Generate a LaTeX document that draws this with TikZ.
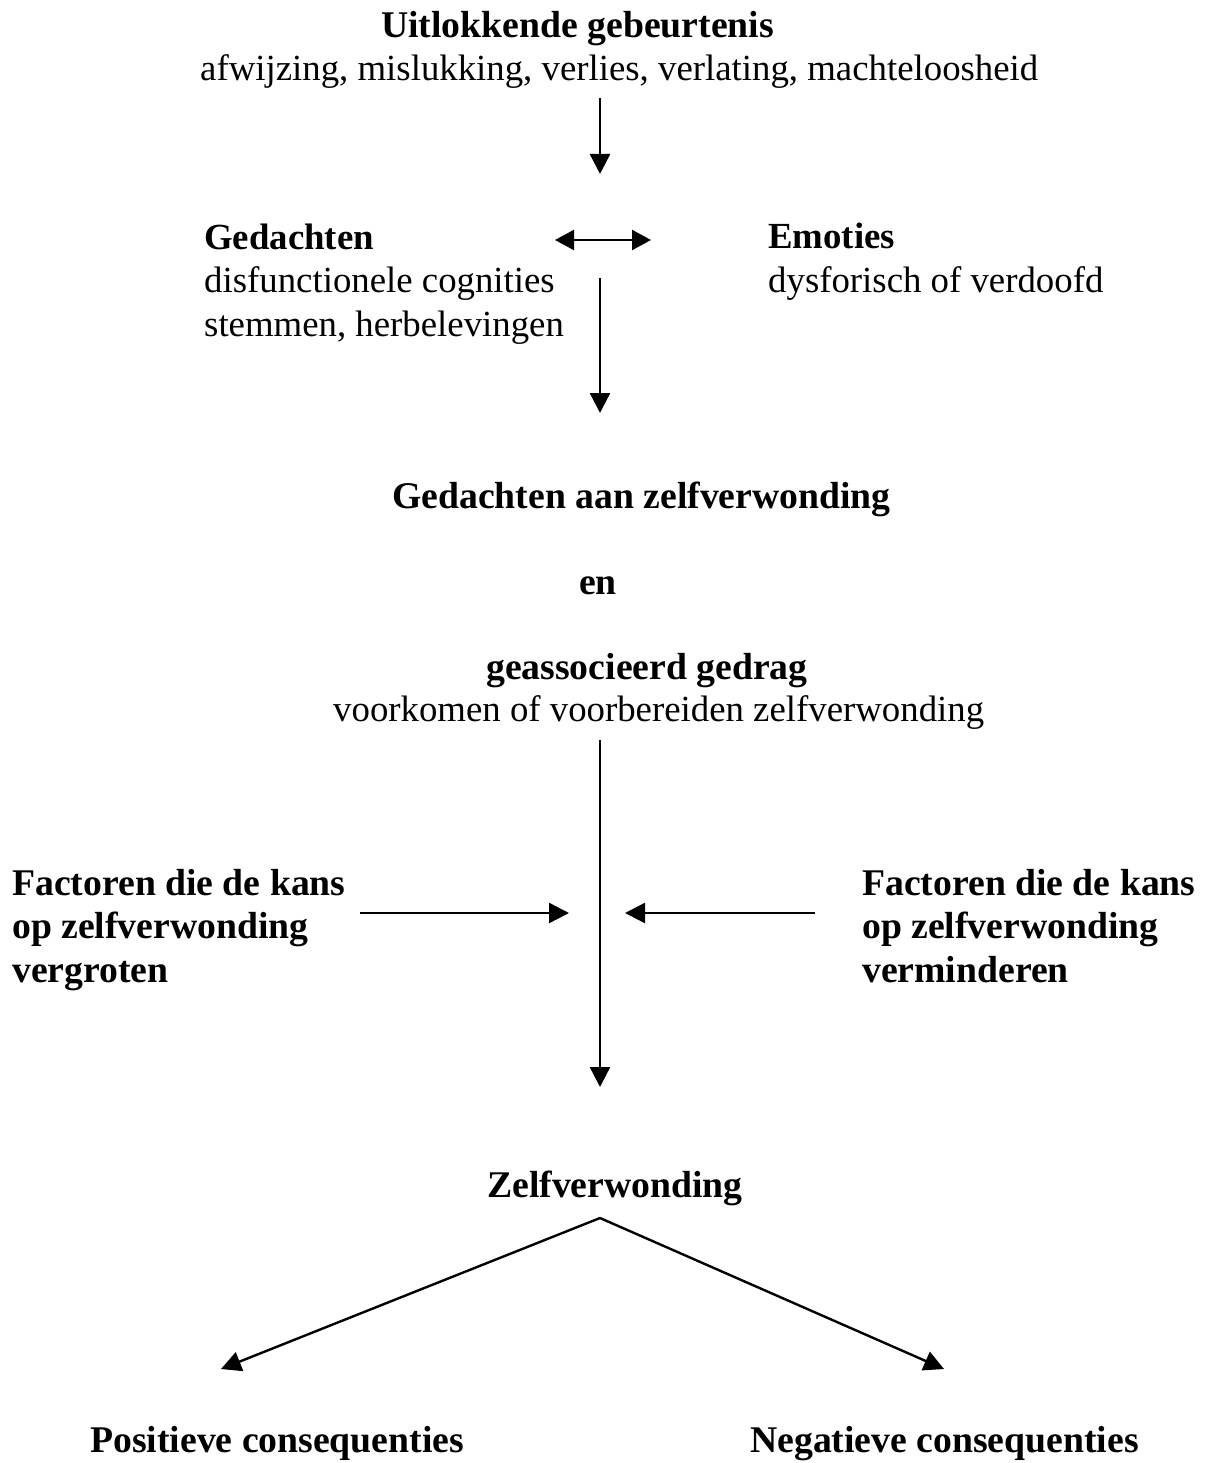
\documentclass[tikz,border=0pt]{standalone}
\usepackage{fontspec}
\setmainfont{Liberation Serif}
\usetikzlibrary{arrows.meta}
\begin{document}
\begin{tikzpicture}[x=1pt,y=-1pt,
  txt/.style={inner sep=0pt,anchor=base west,align=left,font=\fontsize{36.8}{43.5}\selectfont},
  btxt/.style={txt,font=\fontsize{37.7}{43.5}\selectfont\bfseries},
  arr/.style={line width=2.4pt,-{Triangle[length=20pt,width=20pt]}},
  darr/.style={line width=2.4pt,{Triangle[length=19pt,width=20pt]}-{Triangle[length=19pt,width=20pt]}}]
\useasboundingbox (0,0) rectangle (1216,1463);
% texts (multi-line nodes anchored at the baseline of their last line)
\node[btxt] (t1) at (381,38) {Uitlokkende gebeurtenis};
\node[txt] (t2) at (200,81) {afwijzing, mislukking, verlies, verlating, machteloosheid};
\node[txt] (ged) at (204,336) {\textbf{Gedachten}\\disfunctionele cognities\\stemmen, herbelevingen};
\node[txt] (emo) at (768,292) {\textbf{Emoties}\\dysforisch of verdoofd};
\node[btxt] (gaz) at (392,508) {Gedachten aan zelfverwonding};
\node[btxt] (en) at (579,594) {en};
\node[btxt] (gg) at (486,679) {geassocieerd gedrag};
\node[txt] (vv) at (333,721) {voorkomen of voorbereiden zelfverwonding};
\node[btxt] (fl) at (12,982) {Factoren die de kans\\op zelfverwonding\\vergroten};
\node[btxt] (fr) at (862,982) {Factoren die de kans\\op zelfverwonding\\verminderen};
\node[btxt] (zv) at (487,1197) {Zelfverwonding};
\node[btxt] (pos) at (90,1452) {Positieve consequenties};
\node[btxt] (neg) at (750,1452) {Negatieve consequenties};
% connector ends
\coordinate (a1s) at (600,98);   \coordinate (a1e) at (600,174);
\coordinate (dL) at (555,240);   \coordinate (dR) at (651,240);
\coordinate (a2s) at (600,278);  \coordinate (a2e) at (600,413);
\coordinate (a3s) at (600,740);  \coordinate (a3e) at (600,1087);
\coordinate (hls) at (360,913);  \coordinate (hle) at (569,913);
\coordinate (hrs) at (815,913);  \coordinate (hre) at (625,913);
\coordinate (apex) at (600,1218);
\coordinate (pe) at (221,1369);  \coordinate (ne) at (944,1369);
% connectors
\draw[arr] (a1s) -- (a1e);
\draw[darr] (dL) -- (dR);
\draw[arr] (a2s) -- (a2e);
\draw[arr] (a3s) -- (a3e);
\draw[arr] (hls) -- (hle);
\draw[arr] (hrs) -- (hre);
\draw[arr] (apex) -- (pe);
\draw[arr] (apex) -- (ne);
\end{tikzpicture}
\end{document}
